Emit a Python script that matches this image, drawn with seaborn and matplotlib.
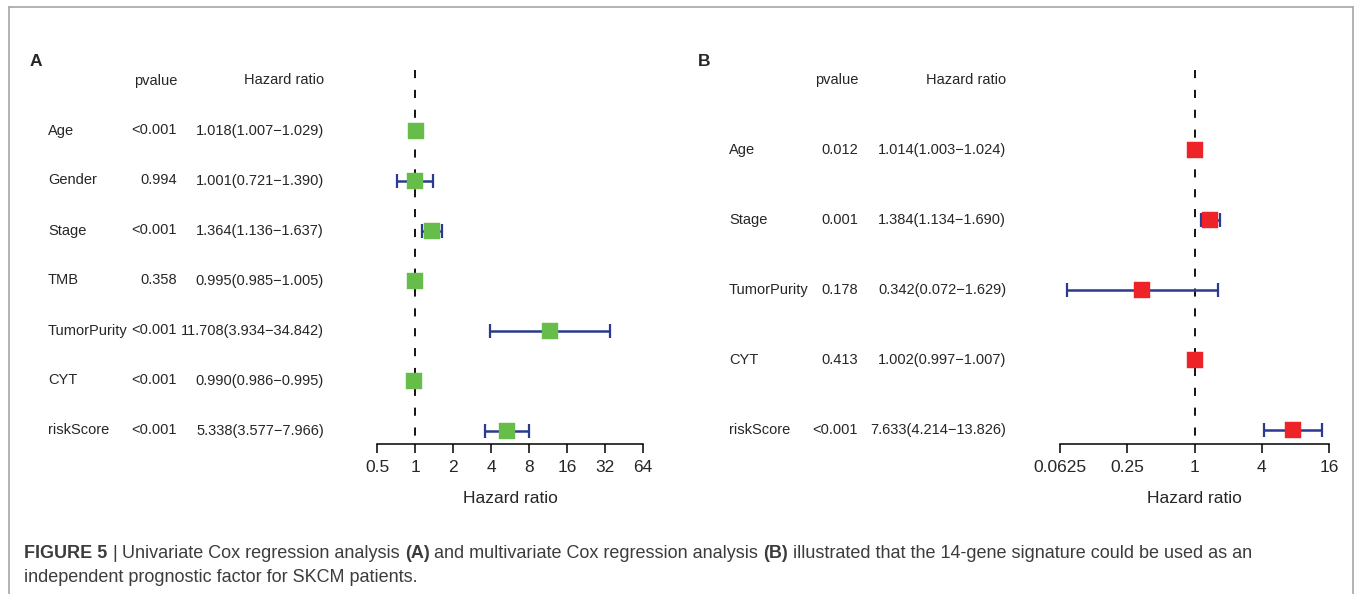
import numpy as np
import pandas as pd
import matplotlib
matplotlib.use("Agg")
import matplotlib.pyplot as plt
import matplotlib.transforms as mtransforms
import seaborn as sns

# Panel A: univariate Cox regression
a_names = ['Age', 'Gender', 'Stage', 'TMB', 'TumorPurity', 'CYT', 'riskScore']
a_pval = ['<0.001', '0.994', '<0.001', '0.358', '<0.001', '<0.001', '<0.001']
a_hr = [1.018, 1.001, 1.364, 0.995, 11.708, 0.990, 5.338]
a_low = [1.007, 0.721, 1.136, 0.985, 3.934, 0.986, 3.577]
a_high = [1.029, 1.390, 1.637, 1.005, 34.842, 0.995, 7.966]
a_ticks = [0.5, 1, 2, 4, 8, 16, 32, 64]
a_ticklabels = ['0.5', '1', '2', '4', '8', '16', '32', '64']

# Panel B: multivariate Cox regression
b_names = ['Age', 'Stage', 'TumorPurity', 'CYT', 'riskScore']
b_pval = ['0.012', '0.001', '0.178', '0.413', '<0.001']
b_hr = [1.014, 1.384, 0.342, 1.002, 7.633]
b_low = [1.003, 1.134, 0.072, 0.997, 4.214]
b_high = [1.024, 1.690, 1.629, 1.007, 13.826]
b_ticks = [0.0625, 0.25, 1, 4, 16]
b_ticklabels = ['0.0625', '0.25', '1', '4', '16']

sns.set_style('white')
plt.rcParams['font.family'] = ['Liberation Sans', 'DejaVu Sans']

W, H = 1355, 594
fig = plt.figure(figsize=(W / 100, H / 100), dpi=100)

NAVY = '#2b3990'
GREEN = '#66bd4a'
RED = '#ee2328'


def px_axes(left, top, right, bottom):
    return fig.add_axes([left / W, 1 - bottom / H, (right - left) / W, (bottom - top) / H])


def forest(ax, names, pvals, hr, low, high, ticks, ticklabels, ylim, color,
           x_name, x_p, x_hr, letter, x_letter):
    df = pd.DataFrame({'row': np.arange(len(names)), 'hr': hr, 'low': low, 'high': high})
    ax.set_xscale('log', base=2)
    ax.set_xlim(ticks[0], ticks[-1])
    ax.set_ylim(*ylim)
    # reference line at HR = 1
    ax.plot([1, 1], [ylim[1], ylim[0]], color='black', lw=1.3,
            linestyle=(0, (4.5, 6.5)), zorder=1)
    ax.errorbar(df['hr'], df['row'], xerr=[df['hr'] - df['low'], df['high'] - df['hr']],
                fmt='none', ecolor=NAVY, elinewidth=1.8, capsize=5, capthick=1.6, zorder=2)
    sns.scatterplot(data=df, x='hr', y='row', marker='s', s=135, color=color,
                    edgecolor=color, linewidth=0.3, ax=ax, zorder=3, legend=False)
    ax.set_xticks(ticks)
    ax.set_xticklabels(ticklabels)
    ax.minorticks_off()
    ax.set_yticks([])
    ax.set_ylabel('')
    ax.set_xlabel('Hazard ratio', fontsize=12.5, labelpad=12)
    for s in ['top', 'left', 'right']:
        ax.spines[s].set_visible(False)
    ax.spines['bottom'].set_linewidth(1.1)
    ax.spines['bottom'].set_color('black')
    ax.tick_params(axis='x', direction='out', length=6.7, width=1.1, color='black',
                   labelsize=12.5, pad=4.5, bottom=True)

    trans = mtransforms.blended_transform_factory(fig.transFigure, ax.transData)
    fs = 10.5
    ax.text(x_p / W, -1, 'pvalue', transform=trans, ha='right', va='center', fontsize=fs)
    ax.text(x_hr / W, -1, 'Hazard ratio', transform=trans, ha='right', va='center', fontsize=fs)
    for i, (n, p, h, lo, hi) in enumerate(zip(names, pvals, hr, low, high)):
        ax.text(x_name / W, i, n, transform=trans, ha='left', va='center', fontsize=fs)
        ax.text(x_p / W, i, p, transform=trans, ha='right', va='center', fontsize=fs)
        ax.text(x_hr / W, i, f'{h:.3f}({lo:.3f}\u2212{hi:.3f})', transform=trans,
                ha='right', va='center', fontsize=fs)
    fig.text(x_letter / W, 1 - 62 / H, letter, fontsize=12.5, fontweight='bold',
             ha='left', va='center')


ax_a = px_axes(377, 70, 643, 444)
forest(ax_a, a_names, a_pval, a_hr, a_low, a_high, a_ticks, a_ticklabels,
       (6.27, -1.21), GREEN, 48, 177, 324, 'A', 30)

ax_b = px_axes(1060, 70, 1329, 444)
forest(ax_b, b_names, b_pval, b_hr, b_low, b_high, b_ticks, b_ticklabels,
       (4.2, -1.143), RED, 729, 858, 1006, 'B', 698)

# figure frame
frame_color = '#a6a6a6'
fig.add_artist(plt.Line2D([9 / W, 9 / W], [0, 1 - 7 / H], transform=fig.transFigure,
                          color=frame_color, lw=1.2))
fig.add_artist(plt.Line2D([1353 / W, 1353 / W], [0, 1 - 7 / H], transform=fig.transFigure,
                          color=frame_color, lw=1.2))
fig.add_artist(plt.Line2D([9 / W, 1353 / W], [1 - 7 / H, 1 - 7 / H], transform=fig.transFigure,
                          color=frame_color, lw=1.2))

# caption with mixed weights
cap_color = '#3c3c3c'
cap_fs = 12.95
renderer = fig.canvas.get_renderer()
probe = fig.text(0, 0, 'a a', fontsize=cap_fs)
w1 = probe.get_window_extent(renderer).width
probe.set_text('aa')
space_w = w1 - probe.get_window_extent(renderer).width
probe.remove()

line1 = [('FIGURE 5', 'bold'), ('|', 'normal'), ('Univariate Cox regression analysis', 'normal'),
         ('(A)', 'bold'), ('and multivariate Cox regression analysis', 'normal'),
         ('(B)', 'bold'),
         ('illustrated that the 14-gene signature could be used as an', 'normal')]
x = 24
for txt, wt in line1:
    t = fig.text(x / W, 1 - 554 / H, txt, fontsize=cap_fs, fontweight=wt,
                 color=cap_color, ha='left', va='center')
    x += t.get_window_extent(renderer).width + space_w
fig.text(24 / W, 1 - 578 / H, 'independent prognostic factor for SKCM patients.',
         fontsize=cap_fs, color=cap_color, ha='left', va='center')

fig.savefig('out.png', dpi=100)
